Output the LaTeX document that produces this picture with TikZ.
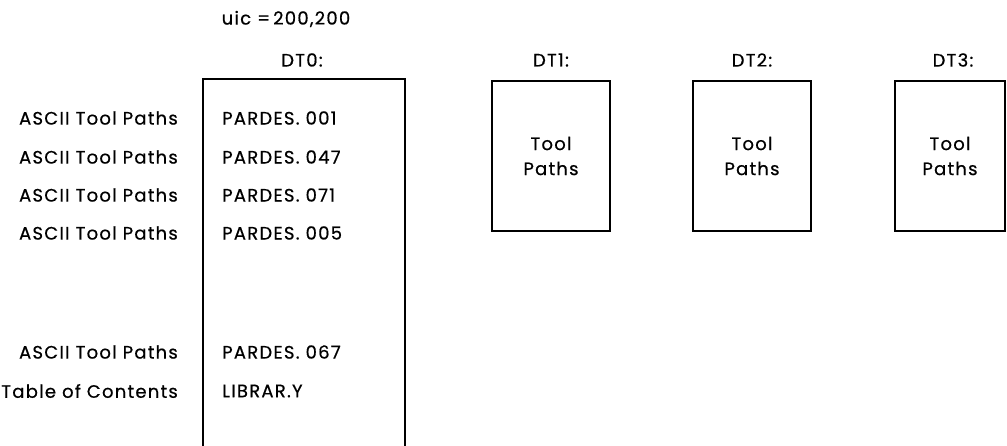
\documentclass[tikz,border=0pt]{standalone}
\usepackage{fontspec}
\setmainfont{Poppins}[LetterSpace=7,FakeBold=0.6]
\begin{document}
\begin{tikzpicture}[x=1pt,y=-1pt,
  lbl/.style={font=\fontsize{18}{25}\selectfont, inner sep=0pt},
  leftlbl/.style={lbl, anchor=east},
  filelbl/.style={lbl, anchor=west},
  dtbox/.style={draw, line width=1.7pt, minimum width=118pt, minimum height=150pt, inner sep=0pt, align=center, font=\fontsize{18}{25}\selectfont},
  frame/.style={line width=1.7pt}]
\useasboundingbox (0,0) rectangle (1007,445);
\node[lbl] (uic) at (286,19) {uic =\,200,200};
\node[lbl] (dt0) at (302,60) {DT0:};
\node[lbl] (dt1) at (551,60) {DT1:};
\node[lbl] (dt2) at (752,60) {DT2:};
\node[lbl] (dt3) at (953,60) {DT3:};
\draw[frame] (203,446) -- (203,79) -- (405,79) -- (405,446);
\node[dtbox] (b1) at (551,156) {Tool\\Paths};
\node[dtbox] (b2) at (752,156) {Tool\\Paths};
\node[dtbox, minimum width=110pt] (b3) at (950,156) {Tool\\Paths};
\foreach \y/\f [count=\i] in {118/PARDES.\ 001,157/PARDES.\ 047,195/PARDES.\ 071,233/PARDES.\ 005,352/PARDES.\ 067}{
  \node[leftlbl] (l\i) at (178,\y) {ASCII Tool Paths};
  \node[filelbl] (f\i) at (222,\y) {\f};
}
\node[leftlbl] (l6) at (178,391) {Table of Contents};
\node[filelbl] (f6) at (222,391) {LIBRAR.Y};
\end{tikzpicture}
\end{document}
